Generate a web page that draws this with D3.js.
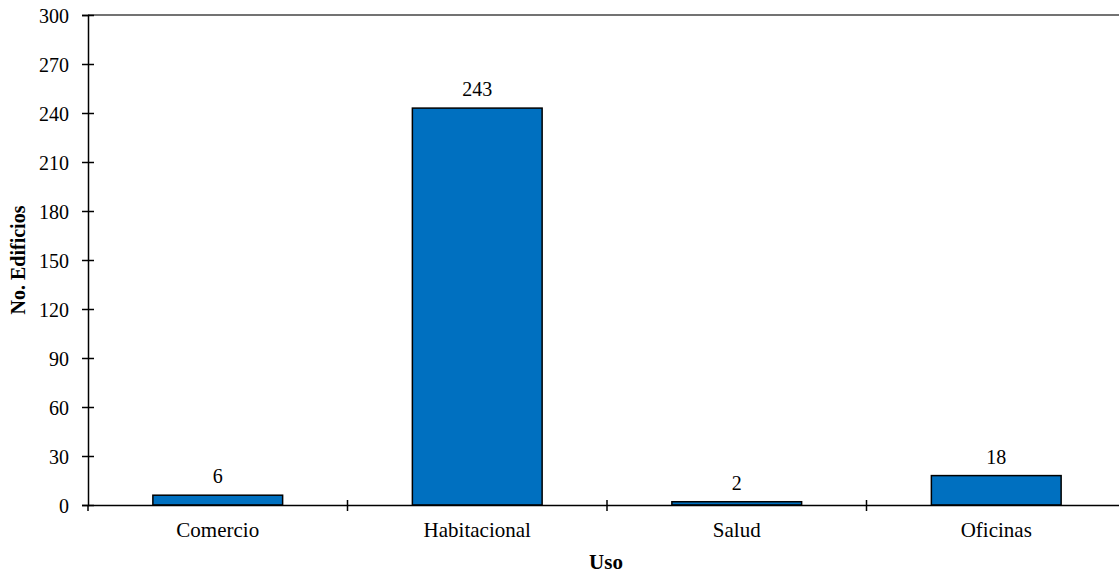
<!DOCTYPE html>
<html><head><meta charset="utf-8">
<script src="https://cdn.jsdelivr.net/npm/d3@7/dist/d3.min.js"></script>
<style>body{margin:0;background:#fff}svg{display:block}</style>
</head><body><svg id="c" width="1119" height="573"></svg>
<script>
const categories = ["Comercio","Habitacional","Salud","Oficinas"];
const values = [6,243,2,18];
const yTicks = [0,30,60,90,120,150,180,210,240,270,300];

const FONT = "'Liberation Serif'";
const svg = d3.select("#c");
const mLeft = 88, mTop = 15, mBottom = 505, mRight = 1126;
const x = d3.scaleBand().domain(categories).range([mLeft,mRight]).paddingInner(0).paddingOuter(0);
const y = d3.scaleLinear().domain([0,300]).range([mBottom,mTop]);

svg.append("line").attr("x1",mLeft).attr("x2",1119).attr("y1",mTop).attr("y2",mTop)
  .attr("stroke","#444").attr("stroke-width",1.5);

const bw = x.bandwidth()*0.5;
svg.selectAll("rect.bar").data(values).join("rect")
  .attr("x",(d,i)=>x(categories[i])+x.bandwidth()/2-bw/2)
  .attr("width",bw)
  .attr("y",d=>y(d))
  .attr("height",d=>y(0)-y(d))
  .attr("fill","#0070C0").attr("stroke","#000").attr("stroke-width",1.5);

svg.selectAll("text.val").data(values).join("text")
  .style("font-family",FONT).style("font-size","20px")
  .attr("x",(d,i)=>x(categories[i])+x.bandwidth()/2)
  .attr("y",d=>y(d)-12)
  .attr("text-anchor","middle").text(d=>d);

const ya = svg.append("g").attr("transform",`translate(${mLeft},0)`)
  .call(d3.axisLeft(y).tickValues(yTicks).tickSize(6).tickPadding(13));
ya.attr("font-family",null).attr("font-size",null);
ya.select(".domain").attr("stroke","#000").attr("stroke-width",1.5);
ya.selectAll(".tick line").attr("stroke","#000").attr("stroke-width",1.5).attr("x1",6).attr("x2",-6);
ya.selectAll(".tick text").style("font-family",FONT).style("font-size","20px").attr("dy","0.35em");

const xa = svg.append("g").attr("transform",`translate(0,${mBottom})`)
  .call(d3.axisBottom(x).tickSize(0).tickPadding(17));
xa.attr("font-family",null).attr("font-size",null);
xa.select(".domain").attr("stroke","#000").attr("stroke-width",1.5);
xa.selectAll(".tick text").style("font-family",FONT).style("font-size","21px").attr("dy","0.71em");
const bounds = categories.slice(1).map(c=>x(c));
svg.selectAll("line.bt").data(bounds).join("line")
  .attr("x1",d=>d).attr("x2",d=>d).attr("y1",mBottom-5).attr("y2",mBottom+6)
  .attr("stroke","#000").attr("stroke-width",1.5);
svg.append("line").attr("x1",mLeft).attr("x2",mLeft).attr("y1",mBottom).attr("y2",mBottom+6)
  .attr("stroke","#000").attr("stroke-width",1.5);

svg.append("text").style("font-family",FONT).style("font-size","21px").style("font-weight","bold")
  .attr("x",606).attr("y",569).attr("text-anchor","middle").text("Uso");
svg.append("text").style("font-family",FONT).style("font-size","20px").style("font-weight","bold")
  .attr("transform",`translate(25,${(mTop+mBottom)/2}) rotate(-90)`)
  .attr("text-anchor","middle").text("No. Edificios");
</script></body></html>
